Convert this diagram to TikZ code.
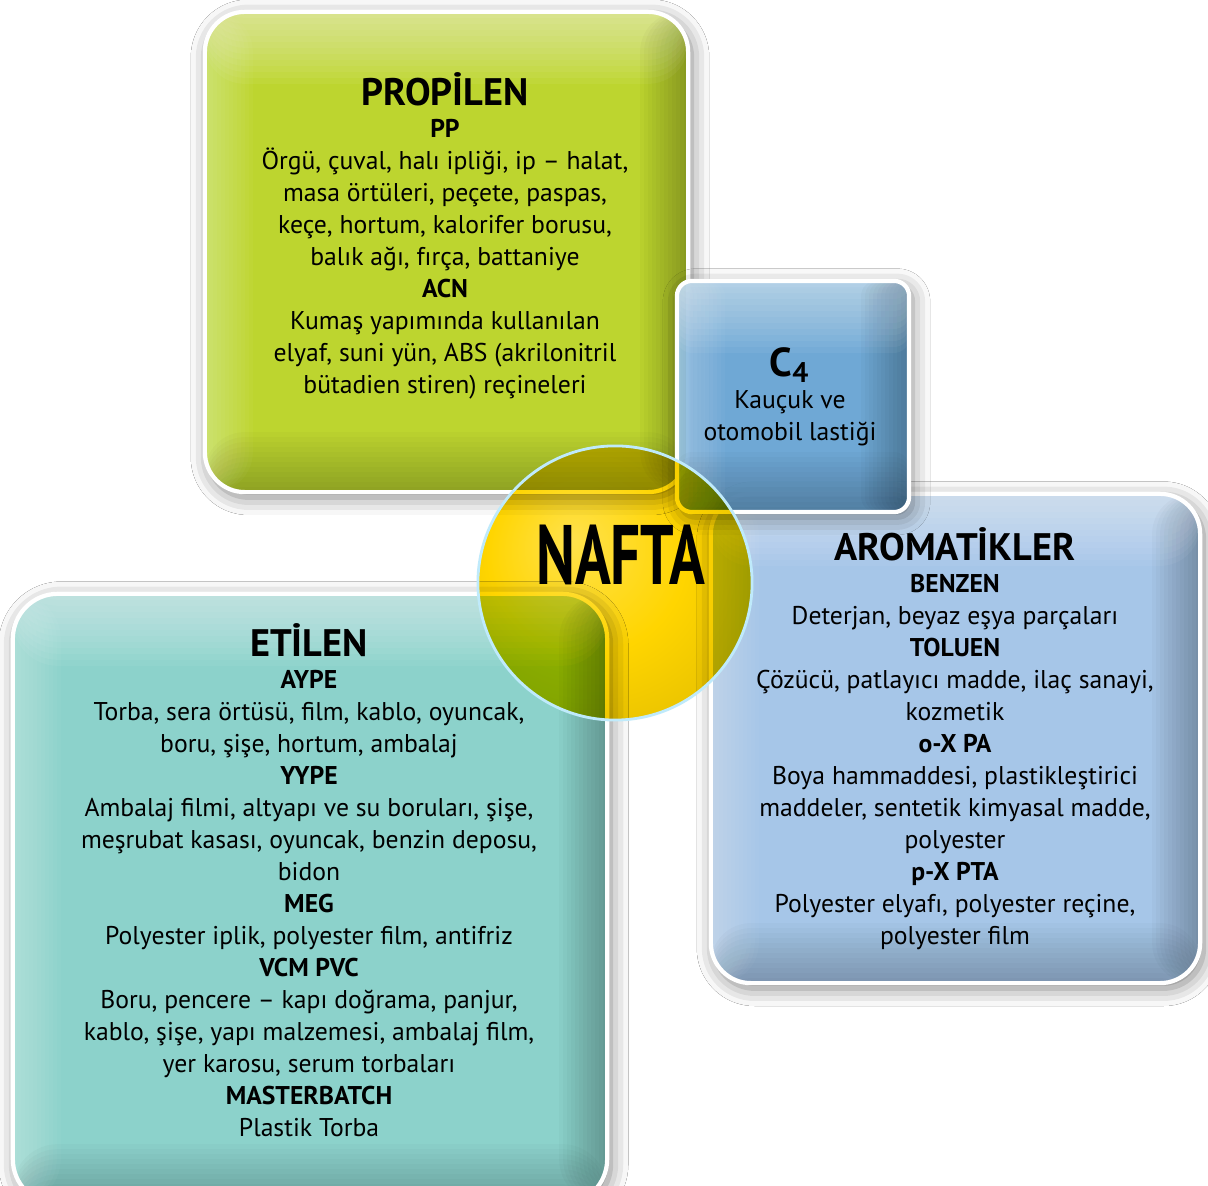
\documentclass[tikz,border=0pt]{standalone}
\usepackage{fontspec}
\setmainfont{PT Sans}
\usetikzlibrary{shadows.blur}
\definecolor{propgreen}{HTML}{BDD52F}
\definecolor{cblue}{HTML}{6CACDD}
\definecolor{aroblue}{HTML}{A6C6E8}
\definecolor{etiteal}{HTML}{8CD2CB}
\definecolor{naftayellow}{HTML}{FFD500}
\pgfdeclareradialshading{naftashade}{\pgfpoint{-8bp}{8bp}}{%
  color(0bp)=(naftayellow!70!white); color(18bp)=(naftayellow); color(42bp)=(naftayellow!85!black); color(50bp)=(naftayellow!65!black)}

\begin{document}
\begin{tikzpicture}[x=0.01cm,y=-0.01cm,
    panel/.style={rectangle,draw=white,line width=1.2pt,
        blur shadow={shadow xshift=1pt,shadow yshift=-1.5pt,shadow blur radius=5pt,shadow opacity=50},
        path picture={
            \foreach \i in {1,...,12} {
                \fill[white,fill opacity=.05] (path picture bounding box.north west) rectangle ([yshift=-\i*0.06cm]path picture bounding box.north east);
                \fill[white,fill opacity=.03] (path picture bounding box.south west) rectangle ([xshift=\i*0.04cm]path picture bounding box.north west);
                \fill[black,fill opacity=.022] ([xshift=-\i*0.04cm]path picture bounding box.south east) rectangle (path picture bounding box.north east);
                \fill[black,fill opacity=.018] (path picture bounding box.south west) rectangle ([yshift=\i*0.05cm]path picture bounding box.south east);
            }
        }},
    body/.style={align=center,inner sep=0pt,font=\fontsize{7.3}{9.1}\selectfont}]
    \useasboundingbox[fill=white] (0,0) rectangle (1208,1186);

    \node (propilen) [panel,rounded corners=0.4cm,minimum width=4.83cm,minimum height=4.8cm,fill=propgreen] at (446.5,252) {};
    \node (etilen) [panel,rounded corners=0.45cm,minimum width=5.94cm,minimum height=6.1cm,fill=etiteal] at (310,899) {};
    \node (aromatik) [panel,rounded corners=0.4cm,minimum width=4.89cm,minimum height=4.89cm,fill=aroblue] at (955.5,738.5) {};
    \node (c4) [panel,rounded corners=0.15cm,minimum width=2.32cm,minimum height=2.31cm,fill=cblue,fill opacity=.9] at (793,396.5) {};

    \begin{scope}[blend mode=multiply]
        \node (nafta) [circle,minimum size=2.74cm,shading=naftashade] at (615,583) {};
    \end{scope}
    \draw[cyan!25,line width=0.8pt] (nafta.center) circle (1.37cm);

    \node (naftatxt) [inner sep=0pt] at (621,555) {\scalebox{0.7}[1]{\fontsize{24}{24}\selectfont\bfseries NAFTA}};

    \node (propilentxt) [body,anchor=north] at (445,72) {{\fontsize{10.9}{12}\selectfont\bfseries PROPİLEN}\\
        \textbf{PP}\\
        Örgü, çuval, halı ipliği, ip – halat,\\
        masa örtüleri, peçete, paspas,\\
        keçe, hortum, kalorifer borusu,\\
        balık ağı, fırça, battaniye\\
        \textbf{ACN}\\
        Kumaş yapımında kullanılan\\
        elyaf, suni yün, ABS (akrilonitril\\
        bütadien stiren) reçineleri};

    \node (c4txt) [body,anchor=north] at (790,347) {{\fontsize{11.5}{12}\selectfont\bfseries C\textsubscript{4}}\\
        Kauçuk ve\\
        otomobil lastiği};

    \node (aromatiktxt) [body,anchor=north] at (955,527) {{\fontsize{10.9}{12}\selectfont\bfseries AROMATİKLER}\\
        \textbf{BENZEN}\\
        Deterjan, beyaz eşya parçaları\\
        \textbf{TOLUEN}\\
        Çözücü, patlayıcı madde, ilaç sanayi,\\
        kozmetik\\
        \textbf{o-X PA}\\
        Boya hammaddesi, plastikleştirici\\
        maddeler, sentetik kimyasal madde,\\
        polyester\\
        \textbf{p-X PTA}\\
        Polyester elyafı, polyester reçine,\\
        polyester film};

    \node (etilentxt) [body,anchor=north] at (309,623) {{\fontsize{10.9}{12}\selectfont\bfseries ETİLEN}\\
        \textbf{AYPE}\\
        Torba, sera örtüsü, film, kablo, oyuncak,\\
        boru, şişe, hortum, ambalaj\\
        \textbf{YYPE}\\
        Ambalaj filmi, altyapı ve su boruları, şişe,\\
        meşrubat kasası, oyuncak, benzin deposu,\\
        bidon\\
        \textbf{MEG}\\
        Polyester iplik, polyester film, antifriz\\
        \textbf{VCM PVC}\\
        Boru, pencere – kapı doğrama, panjur,\\
        kablo, şişe, yapı malzemesi, ambalaj film,\\
        yer karosu, serum torbaları\\
        \textbf{MASTERBATCH}\\
        Plastik Torba};
\end{tikzpicture}
\end{document}
